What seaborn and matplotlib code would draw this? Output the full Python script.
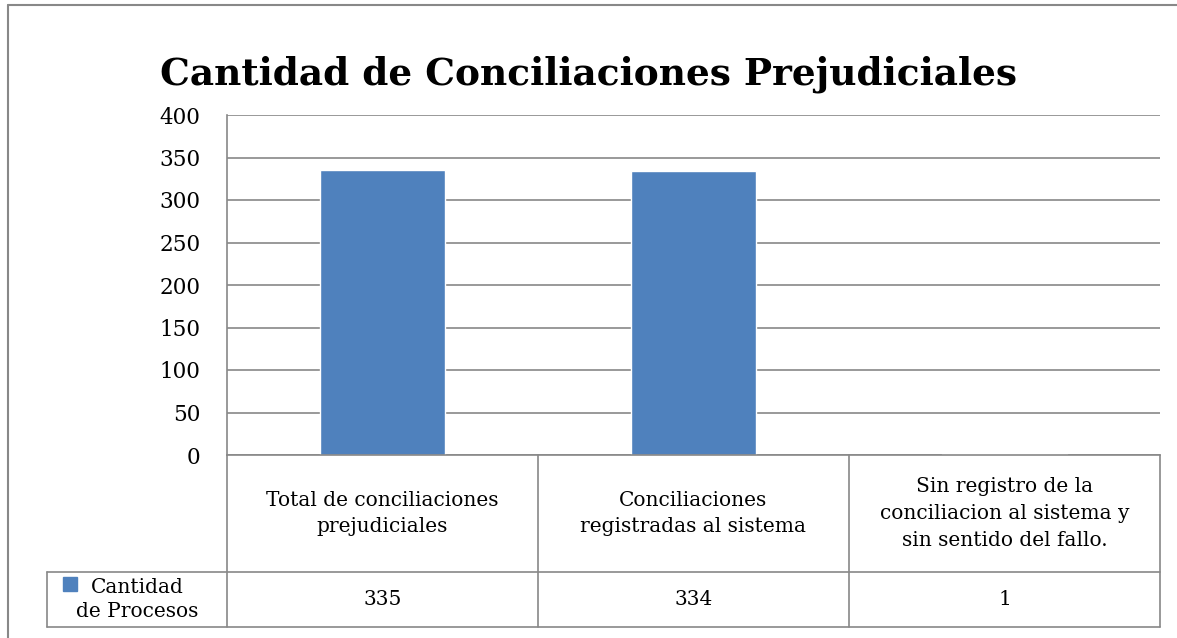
import pandas as pd
import seaborn as sns
import matplotlib.pyplot as plt
from matplotlib.lines import Line2D
from matplotlib.patches import Rectangle

# data
categorias = ["Total de conciliaciones\nprejudiciales",
              "Conciliaciones\nregistradas al sistema",
              "Sin registro de la\nconciliacion al sistema y\nsin sentido del fallo."]
valores = [335, 334, 1]
serie = "Cantidad\nde Procesos"
yticks = [0, 50, 100, 150, 200, 250, 300, 350, 400]

df = pd.DataFrame({"cat": categorias, "val": valores})

sns.set_style("white")
plt.rcParams["font.family"] = ["DejaVu Serif"]
plt.rcParams["text.color"] = "black"
plt.rcParams["ytick.color"] = "black"
azul = "#4F81BD"
gris = "#888888"

fig = plt.figure(figsize=(11.77, 6.38), dpi=100)
ax = fig.add_axes([227/1177, 1 - 455/638, 933/1177, 340/638])

sns.barplot(data=df, x="cat", y="val", color=azul, width=0.4, saturation=1, ax=ax)
ax.set_ylim(0, 400)
ax.set_xlim(-0.5, 2.5)
ax.set_yticks(yticks)
ax.set_yticklabels([str(t) for t in yticks], fontsize=15.5)
ax.tick_params(axis="y", length=0, pad=19, labelcolor="black")
ax.set_xticks([])
ax.set_xlabel("")
ax.set_ylabel("")
ax.yaxis.grid(True, color=gris, linewidth=1.2)
ax.set_axisbelow(True)
for s in ["top", "right"]:
    ax.spines[s].set_visible(False)
for s in ["left", "bottom"]:
    ax.spines[s].set_color(gris)
    ax.spines[s].set_linewidth(1.2)

# data table below the axis
r1 = -117/340
r2 = -172/340
leg_x = -180/933
tr = ax.transAxes
def linea(xs, ys):
    ax.add_line(Line2D(xs, ys, transform=tr, color=gris, lw=1.2, clip_on=False))

for i in range(4):
    linea([i/3, i/3], [0, r2])
linea([leg_x, 1], [r1, r1])
linea([leg_x, 1], [r2, r2])
linea([leg_x, leg_x], [r1, r2])

for i, (c, v) in enumerate(zip(categorias, valores)):
    ax.text((i + 0.5)/3, r1/2, c, transform=tr, ha="center", va="center",
            fontsize=14.5, linespacing=1.5)
    ax.text((i + 0.5)/3, (r1 + r2)/2, str(v), transform=tr, ha="center", va="center",
            fontsize=14.5)

ax.add_patch(Rectangle((-164/933, -136/340), 14/933, 14/340, transform=tr,
                       color=azul, clip_on=False))
ax.text(-90/933, (r1 + r2)/2, serie, transform=tr, ha="center", va="center",
        fontsize=14.5, linespacing=1.3)

fig.text(0.5, 1 - 74/638, "Cantidad de Conciliaciones Prejudiciales",
         ha="center", va="center", fontsize=27, fontweight="bold")

# outer frame
fig.add_artist(Line2D([8/1177, 1], [1 - 5/638, 1 - 5/638], color=gris, lw=1.5))
fig.add_artist(Line2D([8/1177, 8/1177], [0, 1 - 5/638], color=gris, lw=1.5))

fig.savefig("out.png", dpi=100)
